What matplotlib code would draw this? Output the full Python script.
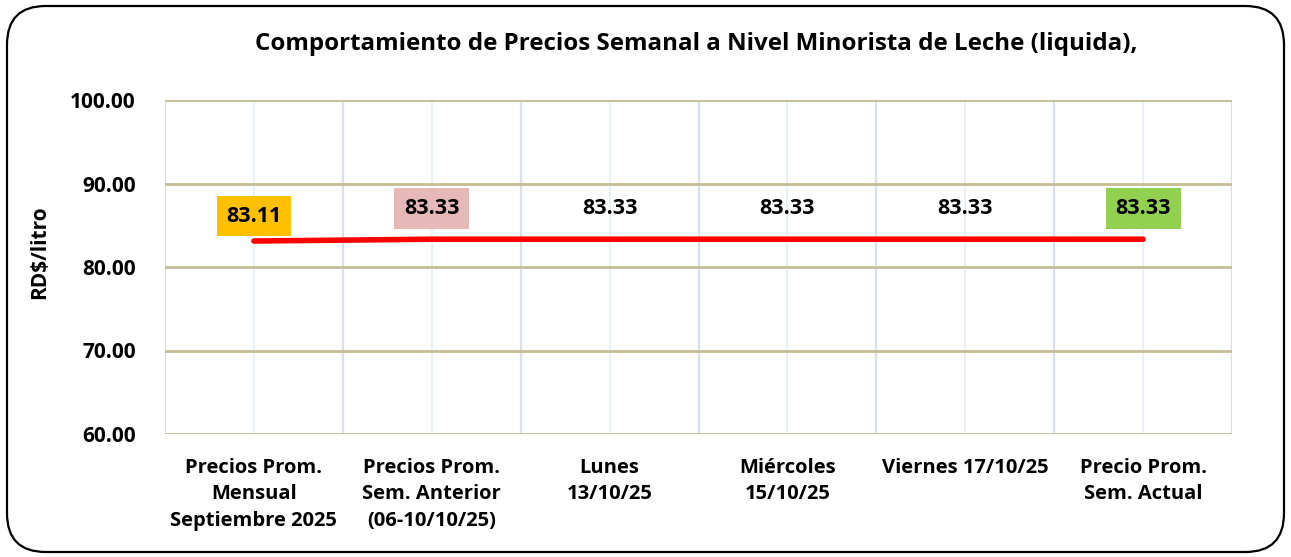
import matplotlib.pyplot as plt
from matplotlib.patches import FancyBboxPatch

categorias = ['Precios Prom.\nMensual\nSeptiembre 2025',
              'Precios Prom.\nSem. Anterior\n(06-10/10/25)',
              'Lunes\n13/10/25',
              'Miércoles\n15/10/25',
              'Viernes 17/10/25',
              'Precio Prom.\nSem. Actual']
precios = [83.11, 83.33, 83.33, 83.33, 83.33, 83.33]
etiquetas = ['83.11', '83.33', '83.33', '83.33', '83.33', '83.33']
colores_caja = ['#ffc000', '#e6b8b7', None, None, None, '#92d050']
y_ticks = [60, 70, 80, 90, 100]

plt.rcParams['font.family'] = ['Open Sans', 'DejaVu Sans']
plt.rcParams['font.weight'] = 'bold'

fig = plt.figure(figsize=(12.91, 5.57), dpi=100)
ax = fig.add_axes([165 / 1291, 1 - 434 / 557, (1232 - 165) / 1291, (434 - 100) / 557])

# marco redondeado
marco = FancyBboxPatch((7 / 1291, 5 / 557), 1277 / 1291, 546 / 557,
                       boxstyle='round,pad=0,rounding_size=0.03',
                       transform=fig.transFigure, fill=False,
                       edgecolor='black', linewidth=1.6, mutation_aspect=1291 / 557)
fig.patches.append(marco)

x = list(range(len(categorias)))
ax.set_xlim(-0.5, len(categorias) - 0.5)
ax.set_ylim(60, 100)

# rejilla
for yt in y_ticks:
    ax.axhline(yt, color='#c4bd97', linewidth=2, zorder=1)
for i in range(len(categorias) + 1):
    ax.axvline(i - 0.5, color='#d6e0ef', linewidth=1.6, zorder=0)
for i in x:
    ax.axvline(i, color='#eaf0f8', linewidth=1.4, zorder=0)

ax.plot(x, precios, color='#ff0000', linewidth=4, solid_capstyle='round', zorder=3)

for i, (v, t, c) in enumerate(zip(precios, etiquetas, colores_caja)):
    off = 18 if i == 0 else 22
    bbox = dict(boxstyle='square,pad=0.45', facecolor=c, edgecolor='none') if c else None
    ax.annotate(t, (i, v), xytext=(0, off), textcoords='offset points',
                ha='center', va='center', fontsize=15.5, fontweight='bold',
                bbox=bbox, zorder=4)

ax.set_yticks(y_ticks)
ax.set_yticklabels([f'{v:.2f}' for v in y_ticks], fontsize=15, fontweight='bold')
ax.set_xticks(x)
ax.set_xticklabels(categorias, fontsize=14.5, fontweight='bold', linespacing=1.45)
ax.tick_params(axis='y', length=0, pad=21)
ax.tick_params(axis='x', length=0, pad=17)
for s in ax.spines.values():
    s.set_visible(False)

fig.text(40 / 1291, 1 - 252 / 557, 'RD$/litro', rotation=90, ha='center', va='center',
         fontsize=15, fontweight='bold')
fig.text(696 / 1291, 1 - 44 / 557,
         'Comportamiento de Precios Semanal a Nivel Minorista de Leche (liquida),',
         ha='center', va='center', fontsize=17.4, fontweight='bold')

fig.savefig('out.png', dpi=100)
